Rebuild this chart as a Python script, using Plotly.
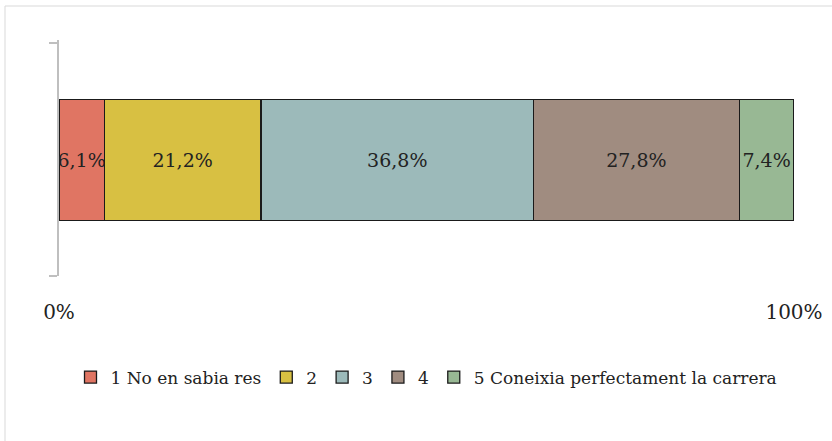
import plotly.graph_objects as go

categories = ["1 No en sabia res", "2", "3", "4", "5 Coneixia perfectament la carrera"]
values = [6.1, 21.2, 36.8, 27.8, 7.4]
labels = ["6,1%", "21,2%", "36,8%", "27,8%", "7,4%"]
colors = ["#E07563", "#D8C042", "#9CBABA", "#A08C80", "#98B894"]
tick_vals = [0, 1]
tick_text = ["0%", "100%"]

FONT = "DejaVu Serif"

fig = go.Figure()
for name, v, lab, c in zip(categories, values, labels, colors):
    fig.add_trace(go.Bar(
        x=[v], y=["a"], orientation="h", name=name,
        marker=dict(color=c, line=dict(color="#1a1a1a", width=1.3)),
        text=[lab], textposition="inside", insidetextanchor="middle", textangle=0,
        constraintext="none",
        textfont=dict(family=FONT, size=19, color="#222222"),
        width=0.52, cliponaxis=False,
    ))

fig.update_layout(
    width=832, height=441,
    barmode="stack", barnorm="fraction",
    paper_bgcolor="white", plot_bgcolor="white",
    margin=dict(l=59, r=38, t=40, b=165, autoexpand=False),
    font=dict(family=FONT, size=19, color="#222222"),
    showlegend=True,
    legend=dict(orientation="h", x=0.5, xanchor="center", y=-0.43, yanchor="middle",
                font=dict(family=FONT, size=17, color="#222222"),
                itemwidth=30, tracegroupgap=0, traceorder="normal"),
    shapes=[dict(type="rect", xref="paper", yref="paper",
                 x0=(5 - 59) / 735, x1=1.3, y0=-1.5, y1=(276 - 6) / 236,
                 line=dict(color="#d9d9d9", width=1), layer="below")],
)
fig.update_xaxes(range=[0, 1], tickvals=tick_vals, ticktext=tick_text,
                 showgrid=True, gridcolor="#bfbfbf", gridwidth=1,
                 zeroline=False, showline=False, ticks="", automargin=False,
                 ticklabelstandoff=22, tickfont=dict(family=FONT, size=20))
fig.update_yaxes(range=[-0.5, 0.515], showline=True, linecolor="#bfbfbf", linewidth=1.5,
                 ticks="outside", ticklen=8, tickcolor="#bfbfbf", tickwidth=1.5,
                 tickson="boundaries", showticklabels=False, showgrid=False,
                 automargin=False)

fig.write_html("out.html", config={"displayModeBar": False},
               post_script="document.body.style.margin='0';document.body.style.overflow='hidden';")
